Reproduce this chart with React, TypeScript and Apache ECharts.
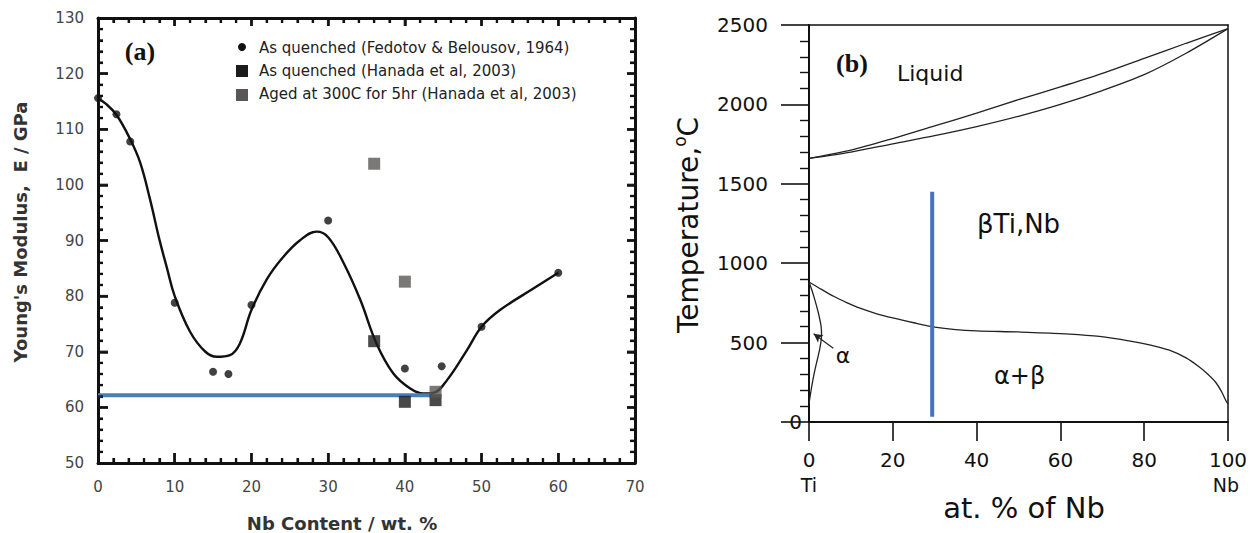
import React, { useEffect, useRef } from "react";
import * as echarts from "echarts";

// ---------- Panel (a): Young's modulus vs Nb content ----------
const xTicksA = { min: 0, max: 70, interval: 10 };
const yTicksA = { min: 50, max: 130, interval: 10 };
const minorSplitA = 5;

const fedotov: number[][] = [
  [0, 115.6], [2.4, 112.7], [4.2, 107.8], [10, 78.8], [15, 66.4], [17, 66.0],
  [20, 78.4], [30, 93.6], [40, 67.0], [44.8, 67.4], [50, 74.5], [60, 84.2],
];
const hanadaQuenched: number[][] = [[36, 71.9], [40, 61.0], [44, 61.3]];
const hanadaAged: number[][] = [[36, 103.8], [40, 82.6], [44, 62.8]];
const fitCurve: number[][] = [
  [0, 115.5], [1, 114.6], [2.4, 112.6], [4.2, 108.2], [5.5, 104], [6.8, 97.3],
  [8, 90.2], [9, 85], [10, 80], [12, 73.6], [14, 70], [15.5, 69.1], [17.2, 69.4],
  [18.5, 71.5], [20, 77.5], [22, 83], [24, 86.8], [26.3, 90], [28.5, 91.6],
  [30, 90.6], [32, 86], [34.2, 79.3], [36.3, 71.5], [38.5, 66.1], [40.7, 63.4],
  [42.4, 62.5], [43.7, 62.6], [45.5, 64.9], [48.1, 70.3], [50, 74.5], [52.4, 77.5],
  [56.8, 81.4], [60, 84.2],
];
const blueLineA: number[][] = [[0, 62.2], [43.5, 62.2]];
const legendA = [
  "As quenched (Fedotov & Belousov, 1964)",
  "As quenched (Hanada et al, 2003)",
  "Aged at 300C for 5hr (Hanada et al, 2003)",
];

// ---------- Panel (b): Ti-Nb phase diagram ----------
const xTicksB = { min: 0, max: 100, interval: 20 };
const yTicksB = { min: 0, max: 2500, interval: 500 };

const liquidus: number[][] = [
  [0, 1660], [10, 1712], [20, 1785], [30, 1865], [40, 1945], [50, 2030],
  [60, 2110], [70, 2195], [80, 2290], [90, 2385], [100, 2477],
];
const solidus: number[][] = [
  [0, 1660], [10, 1700], [20, 1752], [30, 1803], [40, 1860], [50, 1925],
  [60, 2000], [70, 2087], [80, 2187], [90, 2322], [100, 2477],
];
const betaTransus: number[][] = [
  [0, 882], [3, 835], [6, 790], [9, 752], [12, 718], [16, 683], [20, 655],
  [25, 625], [30, 598], [35, 582], [40, 574], [50, 567], [60, 557], [68, 542],
  [74, 522], [78, 503], [82, 481], [86, 452], [90, 404], [93, 350], [95, 306],
  [97, 252], [98.5, 190], [99.3, 145], [100, 112],
];
const alphaBoundary: number[][] = [
  [0, 882], [0.7, 830], [1.5, 760], [2.3, 680], [2.9, 600], [3.0, 545],
  [2.6, 465], [2.0, 395], [1.4, 327], [0.9, 260], [0.5, 200], [0.2, 150], [0, 115],
];
const alphaArrow: number[][] = [[5.8, 464], [1.1, 556]];
const blueLineB: number[][] = [[29.4, 33], [29.4, 1450]];

const FONT = "DejaVu Sans";
const B_OFFSET = 660; // left edge of panel (b) canvas

function frameLine(width: number) {
  return { show: true, onZero: false, lineStyle: { color: "#111", width } };
}
function tickInside(length: number) {
  return { show: true, inside: true, length, lineStyle: { color: "#111", width: 2.5 } };
}
function minorInside() {
  return { show: true, splitNumber: minorSplitA, length: 5, lineStyle: { color: "#111", width: 2.2 } };
}
function labelA(margin: number) {
  return {
    show: true, fontFamily: FONT, fontSize: 15, color: "#444", margin,
    formatter: (v: number) => String(v),
  };
}

// Tick values along the frame of panel (a) (major every interval, minor every interval / 5)
function tickValues(t: { min: number; max: number; interval: number }) {
  const step = t.interval / minorSplitA;
  const n = Math.round((t.max - t.min) / step);
  const out: { v: number; major: boolean }[] = [];
  for (let i = 1; i < n; i++) out.push({ v: t.min + i * step, major: i % minorSplitA === 0 });
  return out;
}

// Frame tick marks drawn as thin rect symbols placed through the axes' own scales.
function frameTickSeries(): any[] {
  const xs = tickValues(xTicksA);
  const ys = tickValues(yTicksA);
  const W_MAJ = 2.5, W_MIN = 2.2;
  const base = {
    type: "scatter", symbol: "rect", silent: true, clip: false, z: 6,
    itemStyle: { color: "#111" }, emphasis: { disabled: true },
  };
  const bottom = xs.map(({ v, major }) => {
    const len = major ? 10 : 5;
    return { value: [v, yTicksA.min], symbolSize: [major ? W_MAJ : W_MIN, len], symbolOffset: [0, -len / 2] };
  });
  const top = xs.map(({ v, major }) => {
    const len = major ? 8 : 5;
    return { value: [v, yTicksA.max], symbolSize: [major ? W_MAJ : W_MIN, len], symbolOffset: [0, len / 2] };
  });
  const left = ys.map(({ v, major }) => {
    const len = major ? 10 : 5;
    return { value: [xTicksA.min, v], symbolSize: [len, major ? W_MAJ : W_MIN], symbolOffset: [len / 2, 0] };
  });
  const right = ys.map(({ v, major }) => {
    const len = major ? 8 : 5;
    return { value: [xTicksA.max, v], symbolSize: [len, major ? W_MAJ : W_MIN], symbolOffset: [-len / 2, 0] };
  });
  return [
    { ...base, name: "ticks-bottom", data: bottom },
    { ...base, name: "ticks-top", data: top },
    { ...base, name: "ticks-left", data: left },
    { ...base, name: "ticks-right", data: right },
  ];
}

function optionA(): any {
  return {
    animation: false,
    backgroundColor: "#fff",
    grid: { left: 98, top: 18, width: 537, height: 445, outerBoundsMode: "none" },
    xAxis: [
      {
        type: "value", position: "bottom", ...xTicksA,
        axisLine: frameLine(3), axisTick: tickInside(10), minorTick: minorInside(),
        axisLabel: labelA(16), splitLine: { show: false },
      },
      {
        type: "value", position: "top", ...xTicksA,
        axisLine: frameLine(3), axisTick: tickInside(8), minorTick: minorInside(),
        axisLabel: { show: false }, splitLine: { show: false },
      },
    ],
    yAxis: [
      {
        type: "value", position: "left", ...yTicksA,
        axisLine: frameLine(3), axisTick: tickInside(10), minorTick: minorInside(),
        axisLabel: labelA(14), splitLine: { show: false },
      },
      {
        type: "value", position: "right", ...yTicksA,
        axisLine: frameLine(3), axisTick: tickInside(8), minorTick: minorInside(),
        axisLabel: { show: false }, splitLine: { show: false },
      },
    ],
    series: [
      {
        name: "fit", type: "line", data: fitCurve, smooth: 0.4, showSymbol: false, symbol: "none",
        lineStyle: { color: "#111", width: 2.4 }, z: 2,
      },
      {
        name: "blue-a", type: "line", data: blueLineA, showSymbol: false, symbol: "none",
        lineStyle: { color: "#4A7EBB", width: 4 }, z: 3,
      },
      {
        name: legendA[0], type: "scatter", data: fedotov,
        symbol: "circle", symbolSize: 8, itemStyle: { color: "#111" }, z: 4,
      },
      {
        name: legendA[1], type: "scatter", data: hanadaQuenched,
        symbol: "rect", symbolSize: 12, itemStyle: { color: "#1c1c1c" }, z: 4,
      },
      {
        name: legendA[2], type: "scatter", data: hanadaAged,
        symbol: "rect", symbolSize: 12, itemStyle: { color: "#5a5656" }, z: 5,
      },
      ...frameTickSeries(),
    ],
    graphic: [
      { type: "text", x: 140, y: 51, style: { text: "(a)", font: "bold 26px 'Liberation Serif'", fill: "#111", align: "center", verticalAlign: "middle" } },
      { type: "circle", shape: { cx: 242, cy: 47, r: 4 }, style: { fill: "#111" } },
      { type: "rect", shape: { x: 236, y: 65, width: 12, height: 12 }, style: { fill: "#1c1c1c" } },
      { type: "rect", shape: { x: 236, y: 89, width: 12, height: 12 }, style: { fill: "#5a5656" } },
      { type: "text", x: 259, y: 48, style: { text: legendA[0], font: `15px '${FONT}'`, fill: "#222", verticalAlign: "middle" } },
      { type: "text", x: 259, y: 71, style: { text: legendA[1], font: `15px '${FONT}'`, fill: "#222", verticalAlign: "middle" } },
      { type: "text", x: 259, y: 94, style: { text: legendA[2], font: `15px '${FONT}'`, fill: "#222", verticalAlign: "middle" } },
      { type: "text", x: 20, y: 232, rotation: Math.PI / 2, style: { text: "Young's Modulus,  E / GPa", font: `bold 18px '${FONT}'`, fill: "#333", align: "center", verticalAlign: "middle" } },
      { type: "text", x: 342, y: 523, style: { text: "Nb Content / wt. %", font: `bold 18px '${FONT}'`, fill: "#333", align: "center", verticalAlign: "middle" } },
    ],
  };
}

function optionB(): any {
  const o = B_OFFSET;
  return {
    animation: false,
    backgroundColor: "#fff",
    grid: { left: 809 - o, top: 25, width: 419, height: 397, outerBoundsMode: "none" },
    xAxis: [
      {
        type: "value", position: "bottom", ...xTicksB,
        axisLine: frameLine(2),
        axisTick: { show: true, inside: false, length: 19, lineStyle: { color: "#111", width: 1.6 } },
        axisLabel: { show: true, fontFamily: FONT, fontSize: 20, color: "#111", margin: 28, formatter: (v: number) => String(v) },
        splitLine: { show: false },
      },
      {
        type: "value", position: "top", ...xTicksB,
        axisLine: frameLine(1.5),
        axisTick: { show: false }, axisLabel: { show: false }, splitLine: { show: false },
      },
    ],
    yAxis: [
      {
        type: "value", position: "left", ...yTicksB,
        axisLine: frameLine(2),
        axisTick: { show: true, inside: false, length: 28, lineStyle: { color: "#111", width: 1.6 } },
        minorTick: { show: true, splitNumber: 5, length: 9, lineStyle: { color: "#111", width: 1.4 } },
        axisLabel: {
          show: true, fontFamily: FONT, fontSize: 20, color: "#111", margin: 41,
          formatter: (v: number) => (v === 0 ? "{z|0}" : String(v)),
          rich: { z: { fontFamily: FONT, fontSize: 20, color: "#111", padding: [0, -34, 0, 0] } },
        },
        splitLine: { show: false },
      },
      {
        type: "value", position: "right", ...yTicksB,
        axisLine: frameLine(1.5),
        axisTick: { show: false }, axisLabel: { show: false }, splitLine: { show: false },
      },
    ],
    series: [
      { name: "liquidus", type: "line", data: liquidus, smooth: 0.3, symbol: "none", lineStyle: { color: "#222", width: 1.3 } },
      { name: "solidus", type: "line", data: solidus, smooth: 0.3, symbol: "none", lineStyle: { color: "#222", width: 1.3 } },
      { name: "beta transus", type: "line", data: betaTransus, smooth: 0.3, symbol: "none", lineStyle: { color: "#222", width: 1.3 } },
      {
        name: "alpha", type: "line", data: alphaBoundary, smooth: 0.3, symbol: "none",
        lineStyle: { color: "#222", width: 1.3 },
        markLine: {
          silent: true, animation: false,
          symbol: ["none", "arrow"], symbolSize: [7, 9],
          lineStyle: { color: "#222", width: 1.2, type: "solid" },
          label: { show: false },
          data: [[{ coord: alphaArrow[0] }, { coord: alphaArrow[1] }]],
        },
      },
      { name: "blue-b", type: "line", data: blueLineB, symbol: "none", lineStyle: { color: "#4472C4", width: 4 }, z: 3 },
    ],
    graphic: [
      { type: "text", x: 852 - o, y: 63, style: { text: "(b)", font: "bold 26px 'Liberation Serif'", fill: "#111", align: "center", verticalAlign: "middle" } },
      { type: "text", x: 897 - o, y: 73, style: { text: "Liquid", font: `22px '${FONT}'`, fill: "#111", verticalAlign: "middle" } },
      { type: "text", x: 977 - o, y: 224, style: { text: "βTi,Nb", font: `26px '${FONT}'`, fill: "#111", verticalAlign: "middle" } },
      { type: "text", x: 994 - o, y: 376, style: { text: "α+β", font: `24px '${FONT}'`, fill: "#111", verticalAlign: "middle" } },
      { type: "text", x: 843 - o, y: 355, style: { text: "α", font: `22px '${FONT}'`, fill: "#111", align: "center", verticalAlign: "middle" } },
      { type: "text", x: 809 - o, y: 485, style: { text: "Ti", font: `19px '${FONT}'`, fill: "#111", align: "center", verticalAlign: "middle" } },
      { type: "text", x: 1226 - o, y: 485, style: { text: "Nb", font: `19px '${FONT}'`, fill: "#111", align: "center", verticalAlign: "middle" } },
      {
        type: "text", x: 688 - o, y: 225, rotation: Math.PI / 2,
        style: {
          text: "{a|Temperature,}{s|o}{a|C}",
          rich: {
            a: { fontFamily: FONT, fontSize: 28, fill: "#111", lineHeight: 34 },
            s: { fontFamily: FONT, fontSize: 17, fill: "#111", verticalAlign: "top" },
          },
          align: "center", verticalAlign: "middle",
        },
      },
      { type: "text", x: 1024 - o, y: 508, style: { text: "at. % of Nb", font: `29px '${FONT}'`, fill: "#111", align: "center", verticalAlign: "middle" } },
    ],
  };
}

export default function App() {
  const refA = useRef<HTMLDivElement>(null);
  const refB = useRef<HTMLDivElement>(null);

  useEffect(() => {
    if (!refA.current || !refB.current) return;
    const chartA = echarts.init(refA.current, null, { renderer: "svg" });
    const chartB = echarts.init(refB.current, null, { renderer: "svg" });
    chartA.setOption(optionA());
    chartB.setOption(optionB());
    return () => {
      chartA.dispose();
      chartB.dispose();
    };
  }, []);

  return (
    <div style={{ position: "fixed", left: 0, top: 0, width: 1254, height: 533, background: "#fff" }}>
      <div ref={refA} style={{ position: "absolute", left: 0, top: 0, width: B_OFFSET, height: 533 }} />
      <div ref={refB} style={{ position: "absolute", left: B_OFFSET, top: 0, width: 1254 - B_OFFSET, height: 533 }} />
    </div>
  );
}
